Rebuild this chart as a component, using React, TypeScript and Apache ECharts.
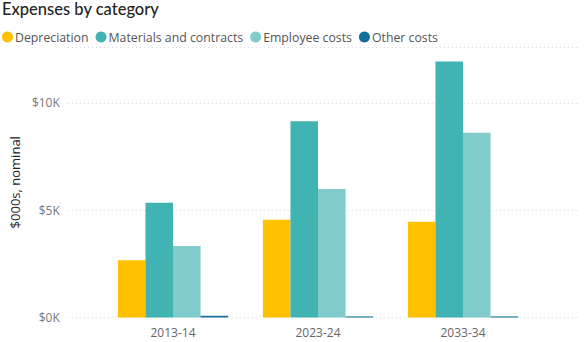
import React, { useEffect, useRef } from "react";
import * as echarts from "echarts";

const categories = ["2013-14", "2023-24", "2033-34"];
const depreciation = [2670, 4550, 4460];
const materials = [5340, 9140, 11930];
const employee = [3330, 5980, 8600];
const other = [80, 50, 50];
const seriesNames = ["Depreciation", "Materials and contracts", "Employee costs", "Other costs"];
const colors = ["#FFC000", "#41B3B3", "#80CCCC", "#136E9C"];
const yTicks = [0, 5000, 10000];

const font = "'Open Sans', 'Noto Sans', sans-serif";
const Y_MAX = 12600;

export default function App() {
  const ref = useRef<HTMLDivElement>(null);
  useEffect(() => {
    if (!ref.current) return;
    const chart = echarts.init(ref.current, null, { renderer: "svg" });
    const data = [depreciation, materials, employee, other];
    chart.setOption({
      animation: false,
      title: {
        text: "Expenses by category",
        left: 2,
        top: 0,
        padding: 0,
        textStyle: { fontFamily: "Lato, 'Noto Sans', sans-serif", fontSize: 16.5, fontWeight: 500, color: "#252423" },
      },
      legend: {
        left: 2,
        top: 31,
        padding: 0,
        icon: "circle",
        itemWidth: 11,
        itemHeight: 11,
        itemGap: 7,
        textStyle: { fontFamily: font, fontSize: 12.3, color: "#555", padding: [0, 0, 0, -3] },
        data: seriesNames,
      },
      grid: [
        { left: 58, right: 6, top: 47, bottom: 24.5, containLabel: false },
        { left: 100.5, right: 50.5, top: 47, bottom: 24.5, containLabel: false },
      ],
      xAxis: [
        { type: "value", gridIndex: 0, show: false, min: 0, max: 1 },
        {
          type: "category",
          gridIndex: 1,
          data: categories,
          axisLine: { show: false },
          axisTick: { show: false },
          axisLabel: { fontFamily: font, fontSize: 12, color: "#666", margin: 9 },
        },
      ],
      yAxis: [
        {
          type: "value",
          gridIndex: 0,
          min: 0,
          max: Y_MAX,
          interval: 5000,
          name: "$000s, nominal",
          nameLocation: "middle",
          nameGap: 46,
          nameTextStyle: { fontFamily: font, fontSize: 13, color: "#252423" },
          axisLine: { show: false },
          axisTick: { show: false },
          axisLabel: {
            fontFamily: font,
            fontSize: 12,
            color: "#777",
            margin: 8,
            formatter: (v: number) => (yTicks.includes(v) ? "$" + v / 1000 + "K" : ""),
          },
          splitLine: { lineStyle: { color: "#d8d8d8", type: [1, 3], width: 1 } },
        },
        { type: "value", gridIndex: 1, min: 0, max: Y_MAX, show: false, splitLine: { show: false } },
      ],
      series: seriesNames.map((name, i) => ({
        name,
        type: "bar",
        xAxisIndex: 1,
        yAxisIndex: 1,
        data: data[i],
        barGap: "0%",
        barCategoryGap: "24%",
        itemStyle: { color: colors[i] },
      })),
    });
    return () => chart.dispose();
  }, []);
  return <div ref={ref} style={{ width: 586, height: 342, position: "absolute", left: 0, top: 0 }} />;
}
